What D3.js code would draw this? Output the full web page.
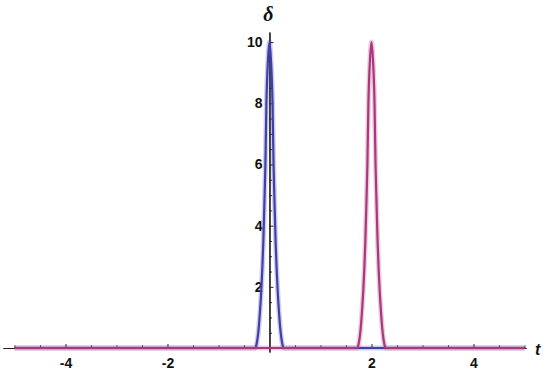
<!DOCTYPE html>
<html>
<head>
<meta charset="utf-8">
<script src="https://cdn.jsdelivr.net/npm/d3@7"></script>
<style>
  body { margin: 0; background: #fff; }
  svg { display: block; }
  .lbl text { font-family: "Liberation Sans", Arial, sans-serif; font-weight: bold; font-size: 14px; fill: #111; }
</style>
</head>
<body>
<div id="chart"></div>
<script>
// values
const blueT = [-5, -0.28, -0.25, -0.22, -0.19, -0.16, -0.14, -0.12, -0.1, -0.08, -0.06, -0.03, 0, 0.03, 0.06, 0.08, 0.1, 0.12, 0.14, 0.16, 0.19, 0.22, 0.25, 0.28, 5];
const blueD = [0, 0, 0.15, 0.5, 1.1, 1.9, 2.6, 3.5, 4.7, 6, 8, 9.4, 10, 9.4, 8, 6, 4.7, 3.5, 2.6, 1.9, 1.1, 0.5, 0.15, 0, 0];
const purpleT = [-5, 1.72, 1.75, 1.78, 1.81, 1.84, 1.86, 1.88, 1.9, 1.92, 1.94, 1.97, 2, 2.03, 2.06, 2.08, 2.1, 2.12, 2.14, 2.16, 2.19, 2.22, 2.25, 2.28, 5];
const purpleD = [0, 0, 0.15, 0.5, 1.1, 1.9, 2.6, 3.5, 4.7, 6, 8, 9.4, 10, 9.4, 8, 6, 4.7, 3.5, 2.6, 1.9, 1.1, 0.5, 0.15, 0, 0];

const xMajor = [-4, -2, 2, 4];
const yMajor = [2, 4, 6, 8, 10];
const xMinor = d3.range(-5, 5.01, 0.5).filter(v => v !== 0 && !xMajor.includes(v));
const yMinor = d3.range(0.5, 10.01, 0.5).filter(v => !yMajor.includes(v));

const width = 552, height = 371;

const svg = d3.select("#chart").append("svg")
    .attr("width", width)
    .attr("height", height);

const x = d3.scaleLinear().domain([-5.225, 5.03]).range([3, 526]);
const y = d3.scaleLinear().domain([-0.13, 10.33]).range([352, 32]);

const fmt = d => String(d);  // plain hyphen, like the original

// axes
const gx = svg.append("g").attr("class", "lbl").attr("transform", `translate(0,${y(0)})`);
gx.call(d3.axisBottom(x).tickValues(xMinor).tickSize(-2.5).tickSizeOuter(0).tickFormat(""));
gx.call(g => g.append("g").call(d3.axisBottom(x).tickValues(xMajor).tickSize(-4).tickSizeOuter(0).tickPadding(10).tickFormat(fmt)));

const gy = svg.append("g").attr("class", "lbl").attr("transform", `translate(${x(0)},0)`);
gy.call(d3.axisLeft(y).tickValues(yMinor).tickSize(-2.5).tickSizeOuter(0).tickFormat(""));
gy.call(g => g.append("g").call(d3.axisLeft(y).tickValues(yMajor).tickSize(-4).tickSizeOuter(0).tickPadding(7).tickFormat(fmt)));

svg.selectAll(".lbl path.domain").attr("stroke", "#222").attr("stroke-width", 1.2);
svg.selectAll(".lbl g g .domain").remove();
svg.selectAll(".lbl .tick line").attr("stroke", "#222");
svg.selectAll(".lbl .tick text").attr("fill", "#111");

// curves
const line = d3.line().x(d => x(d[0])).y(d => y(d[1])).curve(d3.curveMonotoneX);

const series = [
  {t: blueT, d: blueD, color: "#4040aa"},
  {t: purpleT, d: purpleD, color: "#ab377c"}
];

series.forEach(s => {
  const pts = s.t.map((t, i) => [t, s.d[i]]);
  svg.append("path").datum(pts)
    .attr("fill", "none").attr("stroke", s.color).attr("stroke-opacity", 0.25)
    .attr("stroke-width", 5).attr("stroke-linejoin", "round")
    .attr("d", line);
  svg.append("path").datum(pts)
    .attr("fill", "none").attr("stroke", s.color)
    .attr("stroke-width", 2.2).attr("stroke-linejoin", "round")
    .attr("d", line);
});

// axis labels
svg.append("text")
    .attr("x", x(0) - 1).attr("y", 21)
    .attr("text-anchor", "middle")
    .style("font-family", "'Liberation Serif', 'DejaVu Serif', serif")
    .style("font-style", "italic").style("font-weight", "bold")
    .style("font-size", "20px").attr("fill", "#111")
    .text("δ");

svg.append("text")
    .attr("x", 535).attr("y", 355)
    .style("font-family", "'Liberation Sans', Arial, sans-serif")
    .style("font-style", "italic").style("font-weight", "bold")
    .style("font-size", "16px").attr("fill", "#111")
    .text("t");
</script>
</body>
</html>
